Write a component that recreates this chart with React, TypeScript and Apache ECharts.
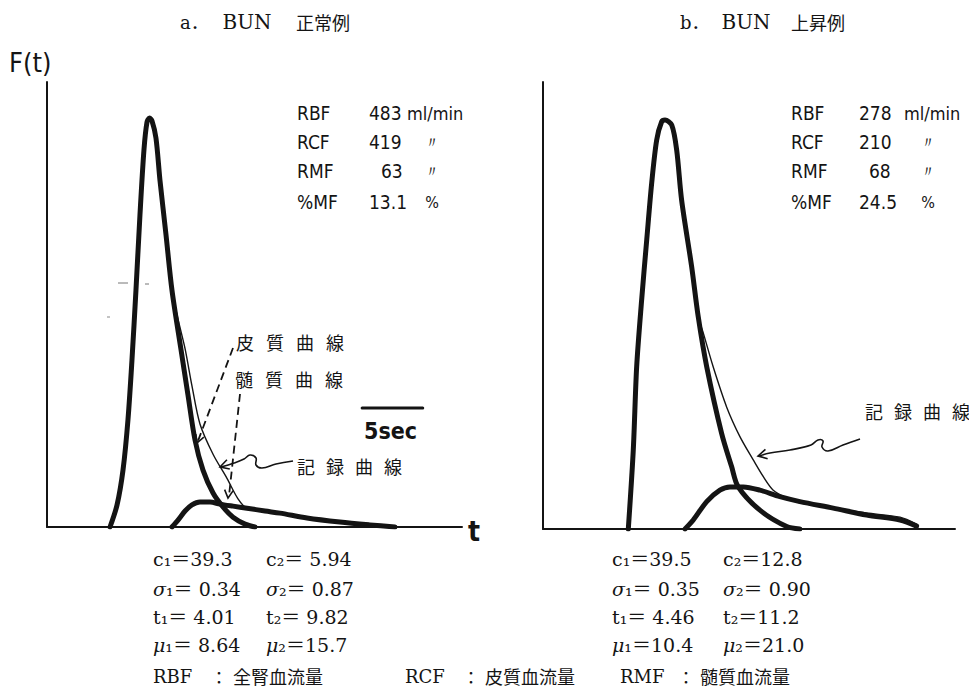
import React, { useEffect, useRef } from "react";
import * as echarts from "echarts";

// ---------- data (t in seconds, F(t) in % of the cortical peak) ----------
// a. BUN 正常例
const CORTEX_A_T = [5.2, 5.78, 6.27, 6.68, 7.01, 7.34, 7.67, 8.0, 8.25, 8.46, 8.66, 8.99, 9.32, 9.82, 10.31, 11.06, 11.63, 12.21, 12.87, 13.7, 14.52, 15.35, 16.34, 17.16];
const CORTEX_A_F = [0, 5.4, 13.9, 26.2, 40.8, 57.9, 76.3, 92.2, 99.0, 100, 99.3, 95.1, 84.8, 71.4, 57.9, 43.3, 32.3, 21.3, 13.9, 8.3, 4.9, 2.4, 0.7, 0];
const MEDULLA_A_T = [10.31, 10.81, 11.39, 11.96, 12.62, 13.45, 14.27, 15.35, 16.5, 17.99, 19.22, 21.45, 24.17, 26.65, 28.71];
const MEDULLA_A_F = [0, 1.7, 3.9, 5.4, 6.1, 6.1, 5.6, 5.1, 4.6, 3.9, 3.4, 2.2, 1.2, 0.5, 0];
const RECORD_A_T = [5.2, 5.78, 6.27, 6.68, 7.01, 7.34, 7.67, 8.0, 8.25, 8.46, 8.66, 8.99, 9.32, 9.82, 10.31, 10.81, 11.39, 11.96, 12.62, 13.7, 14.85, 15.76, 16.5, 17.99, 19.22, 21.45, 24.17, 26.65, 28.71];
const RECORD_A_F = [0, 5.4, 13.9, 26.2, 40.8, 57.9, 76.3, 92.2, 99.0, 100, 99.3, 95.1, 84.8, 71.4, 57.9, 50.8, 43.6, 34.5, 25.2, 17.8, 11.9, 6.9, 4.6, 3.9, 3.4, 2.2, 1.2, 0.5, 0];

// b. BUN 上昇例
const CORTEX_B_T = [7.04, 7.45, 7.73, 8.14, 8.56, 8.97, 9.38, 9.79, 10.07, 10.62, 11.03, 11.44, 12.27, 12.81, 13.51, 14.74, 15.57, 16.11, 17.9, 20.11, 21.2];
const CORTEX_B_F = [0, 19.3, 39.7, 56.0, 70.7, 84.6, 95.1, 99.6, 100, 98.8, 92.7, 80.4, 64.1, 51.9, 39.7, 23.4, 15.2, 10.3, 4.6, 0.6, 0];
const MEDULLA_B_T = [11.72, 12.4, 13.51, 14.6, 15.43, 16.53, 17.9, 19.55, 21.2, 23.95, 26.71, 29.46, 30.83];
const MEDULLA_B_F = [0, 2.2, 6.7, 9.5, 10.3, 10.3, 9.5, 7.9, 6.7, 5.1, 3.4, 2.2, 0.7];
const RECORD_B_T = [7.04, 7.45, 7.73, 8.14, 8.56, 8.97, 9.38, 9.79, 10.07, 10.62, 11.03, 11.44, 12.27, 12.81, 13.23, 14.05, 15.16, 16.25, 17.35, 18.18, 19.0, 20.11, 21.2, 23.95, 26.71, 29.46, 30.83];
const RECORD_B_F = [0, 19.3, 39.7, 56.0, 70.7, 84.6, 95.1, 99.6, 100, 98.8, 92.7, 80.4, 64.1, 51.9, 47.9, 39.6, 29.8, 22.6, 16.9, 12.8, 9.5, 7.6, 6.4, 5.1, 3.9, 2.9, 1.2];

// 5 sec scale bar (panel a)
const SCALE_BAR_T = [26.0, 31.0];
const SCALE_BAR_F = [29.1, 29.1];

// axis ranges
const X_MAX_A = 34.24;
const X_MAX_B = 34.0;
const Y_MAX_A = 108.8;
const Y_MAX_B = 109.3;

// text blocks
const FLOW_LABELS = ["RBF", "RCF", "RMF", "%MF"];
const FLOW_A = ["483", "419", "63", "13.1"];
const FLOW_B = ["278", "210", "68", "24.5"];
const FLOW_UNITS = ["ml/min", "〃", "〃", "%"];
const PARAM_A_1 = ["c₁＝39.3", "{g|σ}₁＝ 0.34", "t₁＝ 4.01", "{g|μ}₁＝ 8.64"];
const PARAM_A_2 = ["c₂＝ 5.94", "{g|σ}₂＝ 0.87", "t₂＝ 9.82", "{g|μ}₂＝15.7"];
const PARAM_B_1 = ["c₁＝39.5", "{g|σ}₁＝ 0.35", "t₁＝ 4.46", "{g|μ}₁＝10.4"];
const PARAM_B_2 = ["c₂＝12.8", "{g|σ}₂＝ 0.90", "t₂＝11.2", "{g|μ}₂＝21.0"];
const LEGEND_ABBR = ["RBF", "RCF", "RMF"];
const LEGEND_NAME = ["全腎血流量", "皮質血流量", "髄質血流量"];

const INK = "#141414";
const SERIF = "'DejaVu Serif', 'Liberation Serif', 'Noto Sans CJK JP', serif";
const SANS = "'DejaVu Sans Condensed', 'DejaVu Sans', sans-serif";
const CJK = "'Noto Sans CJK JP', sans-serif";

function pairs(t: number[], f: number[]) {
  return t.map((v, i) => [v, f[i]]);
}

function txt(x: number, y: number, text: string, size: number, family: string, align = "left", extra: any = {}) {
  return {
    type: "text",
    x,
    y,
    silent: true,
    style: {
      text,
      fill: INK,
      fontSize: size,
      fontFamily: family,
      fontWeight: extra.weight || "normal",
      align,
      verticalAlign: "middle",
      textAlign: align,
      textVerticalAlign: "middle",
      rich: extra.rich,
    },
  };
}

function spread(x0: number, y: number, chars: string, step: number, size: number) {
  return chars.split("").map((c, i) => txt(x0 + i * step, y, c, size, CJK));
}

function arrowHead(tx: number, ty: number, fx: number, fy: number, len = 9, ang = 0.45, width = 1.6) {
  const a = Math.atan2(fy - ty, fx - tx);
  return {
    type: "polyline",
    silent: true,
    shape: {
      points: [
        [tx + len * Math.cos(a + ang), ty + len * Math.sin(a + ang)],
        [tx, ty],
        [tx + len * Math.cos(a - ang), ty + len * Math.sin(a - ang)],
      ],
    },
    style: { stroke: INK, lineWidth: width, fill: null },
  };
}

function seg(x1: number, y1: number, x2: number, y2: number, w: number, dash?: number[], color = INK) {
  return {
    type: "line",
    silent: true,
    shape: { x1, y1, x2, y2 },
    style: { stroke: color, lineWidth: w, lineDash: dash || null },
  };
}

function wavy(points: number[][]) {
  return {
    type: "polyline",
    silent: true,
    shape: { points, smooth: 0.4 },
    style: { stroke: INK, lineWidth: 1.6, fill: null },
  };
}

function buildGraphic() {
  const g: any[] = [];
  // titles
  g.push(txt(180, 22, "a．", 18, SERIF));
  g.push(txt(247, 22, "BUN", 20, SERIF, "center"));
  g.push(txt(296, 22, "正常例", 18, CJK));
  g.push(txt(680, 22, "b．", 18, SERIF));
  g.push(txt(746, 22, "BUN", 20, SERIF, "center"));
  g.push(txt(791, 22, "上昇例", 18, CJK));
  // axis labels
  g.push(txt(9, 62, "F(t)", 27, SANS));
  g.push(txt(474, 531, "t", 28, SANS, "center", { weight: "bold" }));

  // flow blocks
  const rows = [113, 142, 171, 202];
  const valXA = [369, 369, 381, 369];
  const valXB = [859, 859, 869, 859];
  rows.forEach((y, i) => {
    g.push(txt(297, y, FLOW_LABELS[i], 19, SANS));
    g.push(txt(valXA[i], y, FLOW_A[i], 19, SANS));
    g.push(txt(791, y, FLOW_LABELS[i], 19, SANS));
    g.push(txt(valXB[i], y, FLOW_B[i], 19, SANS));
    if (i === 0) {
      g.push(txt(407, y, FLOW_UNITS[i], 18, SANS));
      g.push(txt(904, y, FLOW_UNITS[i], 18, SANS));
    } else {
      g.push(txt(432, y, FLOW_UNITS[i], 16, SANS, "center"));
      g.push(txt(928, y, FLOW_UNITS[i], 16, SANS, "center"));
    }
  });

  // annotations panel a
  g.push(...spread(236, 342, "皮質曲線", 30, 18));
  g.push(...spread(235, 379, "髄質曲線", 30, 18));
  g.push(...spread(297, 466, "記録曲線", 29, 18));
  g.push(seg(233, 348, 198, 441, 1.8, [8, 5]));
  g.push(arrowHead(197, 443, 233, 348, 9, 0.5));
  g.push(seg(240, 394, 229, 496, 1.8, [8, 5]));
  g.push(arrowHead(228, 498, 240, 394, 9, 0.5));
  g.push(wavy([[293, 461], [276, 464], [262, 468], [256, 465], [256, 458], [250, 455], [244, 459], [234, 463], [221, 467]]));
  g.push(arrowHead(220, 467, 236, 462, 10, 0.5));
  g.push(txt(364, 431, "5sec", 23, SANS, "left", { weight: "bold" }));
  // scan specks
  g.push(seg(118, 283, 128, 283, 1, undefined, "#777"));
  g.push(seg(145, 284, 149, 284, 1, undefined, "#777"));
  g.push(seg(107, 317, 110, 317, 1, undefined, "#888"));

  // annotations panel b
  g.push(...spread(865, 411, "記録曲線", 29, 18));
  g.push(wavy([[860, 439], [843, 445], [828, 451], [822, 447], [823, 441], [818, 440], [811, 445], [790, 450], [770, 453], [759, 456]]));
  g.push(arrowHead(758, 456, 775, 452, 10, 0.5));

  // parameter tables
  const prow = [559, 589, 617, 645];
  const rich = { g: { fontStyle: "italic", fontFamily: SERIF, fontSize: 19, fill: INK } };
  prow.forEach((y, i) => {
    g.push(txt(153, y, PARAM_A_1[i], 19, SERIF, "left", { rich }));
    g.push(txt(266, y, PARAM_A_2[i], 19, SERIF, "left", { rich }));
    g.push(txt(612, y, PARAM_B_1[i], 19, SERIF, "left", { rich }));
    g.push(txt(723, y, PARAM_B_2[i], 19, SERIF, "left", { rich }));
  });

  // abbreviations
  const lx = [153, 405, 620];
  lx.forEach((x, i) => {
    g.push(txt(x, 676, LEGEND_ABBR[i], 18, SERIF));
    g.push(txt(x + 66, 676, "：", 17, CJK, "center"));
    g.push(txt(x + 80, 676, LEGEND_NAME[i], 18, CJK));
  });
  return g;
}

function axisPair(grid: number, xMax: number, yMax: number) {
  const common = {
    gridIndex: grid,
    type: "value",
    min: 0,
    axisLine: { show: true, onZero: false, lineStyle: { color: INK, width: 2 } },
    axisTick: { show: false },
    axisLabel: { show: false },
    splitLine: { show: false },
  };
  return {
    x: { ...common, max: xMax, position: "bottom" },
    y: { ...common, max: yMax, position: "left" },
  };
}

function curve(name: string, xi: number, t: number[], f: number[], width: number) {
  return {
    name,
    type: "line",
    xAxisIndex: xi,
    yAxisIndex: xi,
    data: pairs(t, f),
    showSymbol: false,
    smooth: 0.3,
    silent: true,
    lineStyle: { color: INK, width, cap: "round", join: "round" },
  };
}

export default function App() {
  const ref = useRef<HTMLDivElement>(null);
  useEffect(() => {
    if (!ref.current) return;
    const chart = echarts.init(ref.current, null, { renderer: "svg" });
    const a = axisPair(0, X_MAX_A, Y_MAX_A);
    const b = axisPair(1, X_MAX_B, Y_MAX_B);
    chart.setOption({
      animation: false,
      backgroundColor: "#ffffff",
      grid: [
        { left: 47, top: 82, width: 415, height: 445 },
        { left: 543, top: 82, width: 412, height: 447 },
      ],
      xAxis: [a.x, b.x],
      yAxis: [a.y, b.y],
      series: [
        curve("皮質曲線 a", 0, CORTEX_A_T, CORTEX_A_F, 5),
        curve("髄質曲線 a", 0, MEDULLA_A_T, MEDULLA_A_F, 5),
        curve("記録曲線 a", 0, RECORD_A_T, RECORD_A_F, 1.4),
        curve("5sec", 0, SCALE_BAR_T, SCALE_BAR_F, 3),
        curve("皮質曲線 b", 1, CORTEX_B_T, CORTEX_B_F, 5),
        curve("髄質曲線 b", 1, MEDULLA_B_T, MEDULLA_B_F, 5),
        curve("記録曲線 b", 1, RECORD_B_T, RECORD_B_F, 1.4),
      ],
      graphic: buildGraphic(),
    });
    return () => chart.dispose();
  }, []);
  return (
    <div
      ref={ref}
      style={{ position: "fixed", left: 0, top: 0, width: 969, height: 689, background: "#fff" }}
    />
  );
}
